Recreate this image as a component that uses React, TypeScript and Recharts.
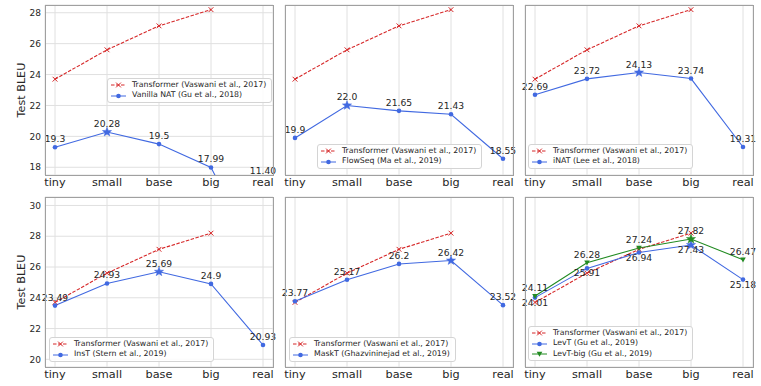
import React from 'react';
import { LineChart, Line, XAxis, YAxis, CartesianGrid, LabelList, Legend } from 'recharts';

const categories = ['tiny', 'small', 'base', 'big', 'real'];

const transformerBleu = [23.7, 25.6, 27.15, 28.2, null];

const vanillaNatBleu = [19.3, 20.28, 19.5, 17.99, 11.4];
const vanillaNatLabels = ['19.3', '20.28', '19.5', '17.99', '11.40'];

const flowSeqBleu = [19.9, 22.0, 21.65, 21.43, 18.55];
const flowSeqLabels = ['19.9', '22.0', '21.65', '21.43', '18.55'];

const inatBleu = [22.69, 23.72, 24.13, 23.74, 19.31];
const inatLabels = ['22.69', '23.72', '24.13', '23.74', '19.31'];

const instBleu = [23.49, 24.93, 25.69, 24.9, 20.93];
const instLabels = ['23.49', '24.93', '25.69', '24.9', '20.93'];

const maskTBleu = [23.77, 25.17, 26.2, 26.42, 23.52];
const maskTLabels = ['23.77', '25.17', '26.2', '26.42', '23.52'];

const levTBleu = [24.01, 25.91, 26.94, 27.43, 25.18];
const levTLabels = ['24.01', '25.91', '26.94', '27.43', '25.18'];

const levTBigBleu = [24.11, 26.28, 27.24, 27.82, 26.47];
const levTBigLabels = ['24.11', '26.28', '27.24', '27.82', '26.47'];

const topTicks = [18, 20, 22, 24, 26, 28];
const bottomTicks = [20, 22, 24, 26, 28, 30];
const topDomain: [number, number] = [17.5, 28.5];
const bottomDomain: [number, number] = [19.5, 30.55];

const RED = '#d62728';
const BLUE = '#4169e1';
const GREEN = '#228b22';
const TEXT = '#262626';
const FONT = 'DejaVu Sans, sans-serif';

const ML = 45;
const MT = 5;
const PW = 228;
const PH = 170;
const MR = 8;
const XH = 20;

type Marker = 'x' | 'circle' | 'tri';
interface SeriesDef {
  key: string;
  name: string;
  values: (number | null)[];
  labels?: string[];
  color: string;
  marker: Marker;
  dashed?: boolean;
  star?: boolean;
  below?: boolean;
}

const transformerSeries: SeriesDef = {
  key: 'tr',
  name: 'Transformer (Vaswani et al., 2017)',
  values: transformerBleu,
  color: RED,
  marker: 'x',
  dashed: true,
};

interface PanelDef {
  x0: number;
  y0: number;
  showY: boolean;
  domain: [number, number];
  ticks: number[];
  series: SeriesDef[];
  legend: { x: number; y: number };
}

const panels: PanelDef[] = [
  {
    x0: 45, y0: 5, showY: true, domain: topDomain, ticks: topTicks,
    legend: { x: 107, y: 78 },
    series: [transformerSeries, { key: 's1', name: 'Vanilla NAT (Gu et al., 2018)', values: vanillaNatBleu, labels: vanillaNatLabels, color: BLUE, marker: 'circle', star: true }],
  },
  {
    x0: 285, y0: 5, showY: false, domain: topDomain, ticks: topTicks,
    legend: { x: 317, y: 144 },
    series: [transformerSeries, { key: 's1', name: 'FlowSeq (Ma et al., 2019)', values: flowSeqBleu, labels: flowSeqLabels, color: BLUE, marker: 'circle', star: true }],
  },
  {
    x0: 525, y0: 5, showY: false, domain: topDomain, ticks: topTicks,
    legend: { x: 528, y: 144 },
    series: [transformerSeries, { key: 's1', name: 'iNAT (Lee et al., 2018)', values: inatBleu, labels: inatLabels, color: BLUE, marker: 'circle', star: true }],
  },
  {
    x0: 45, y0: 197, showY: true, domain: bottomDomain, ticks: bottomTicks,
    legend: { x: 49, y: 337 },
    series: [transformerSeries, { key: 's1', name: 'InsT (Stern et al., 2019)', values: instBleu, labels: instLabels, color: BLUE, marker: 'circle', star: true }],
  },
  {
    x0: 285, y0: 197, showY: false, domain: bottomDomain, ticks: bottomTicks,
    legend: { x: 289, y: 337 },
    series: [transformerSeries, { key: 's1', name: 'MaskT (Ghazvininejad et al., 2019)', values: maskTBleu, labels: maskTLabels, color: BLUE, marker: 'circle', star: true }],
  },
  {
    x0: 525, y0: 197, showY: false, domain: bottomDomain, ticks: bottomTicks,
    legend: { x: 528, y: 326 },
    series: [
      transformerSeries,
      { key: 's1', name: 'LevT (Gu et al., 2019)', values: levTBleu, labels: levTLabels, color: BLUE, marker: 'circle', star: true, below: true },
      { key: 's2', name: 'LevT-big (Gu et al., 2019)', values: levTBigBleu, labels: levTBigLabels, color: GREEN, marker: 'tri', star: true },
    ],
  },
];

function starPoints(cx: number, cy: number, ro: number, ri: number) {
  const pts: string[] = [];
  for (let i = 0; i < 10; i++) {
    const r = i % 2 === 0 ? ro : ri;
    const a = -Math.PI / 2 + (i * Math.PI) / 5;
    pts.push(`${cx + r * Math.cos(a)},${cy + r * Math.sin(a)}`);
  }
  return pts.join(' ');
}

function MarkerShape({ marker, cx, cy, color, star }: { marker: Marker; cx: number; cy: number; color: string; star?: boolean }) {
  if (star) {
    return <polygon points={starPoints(cx, cy, 4.8, 2.0)} fill={color} stroke={color} strokeWidth={0.5} />;
  }
  if (marker === 'x') {
    const s = 2.4;
    return (
      <g stroke={color} strokeWidth={1}>
        <line x1={cx - s} y1={cy - s} x2={cx + s} y2={cy + s} />
        <line x1={cx - s} y1={cy + s} x2={cx + s} y2={cy - s} />
      </g>
    );
  }
  if (marker === 'tri') {
    return <polygon points={`${cx - 2.8},${cy - 2.2} ${cx + 2.8},${cy - 2.2} ${cx},${cy + 2.8}`} fill={color} />;
  }
  return <circle cx={cx} cy={cy} r={2.3} fill={color} />;
}

const makeDot = (s: SeriesDef) => (props: any) => {
  const { cx, cy, index, value } = props;
  const v = Array.isArray(value) ? value[1] : value;
  if (cx == null || cy == null || v == null) return <g key={`d-${index}`} />;
  const nums = s.values.filter((x): x is number => x != null);
  const isMax = !!s.star && v === Math.max(...nums);
  return (
    <g key={`d-${index}`}>
      <MarkerShape marker={s.marker} cx={cx} cy={cy} color={s.color} star={isMax} />
    </g>
  );
};

const makeLabel = (s: SeriesDef) => (props: any) => {
  const vb = props.viewBox || {};
  const x = props.x != null ? props.x : vb.x;
  const y = props.y != null ? props.y : vb.y;
  const index = props.index;
  if (x == null || y == null || !s.labels) return null;
  let base = s.below ? y + 8 : y - 5;
  base = Math.min(base, MT + PH - 1.5);
  return (
    <text x={x} y={base} textAnchor="middle" fontSize={9.2} fill={TEXT} fontFamily={FONT}>
      {s.labels[index]}
    </text>
  );
};

const YTitle = (props: any) => {
  const vb = props.viewBox || { x: 0, y: MT, width: ML, height: PH };
  const cx = vb.x + 21;
  const cy = vb.y + vb.height / 2;
  return (
    <text x={cx} y={cy} transform={`rotate(-90 ${cx} ${cy})`} textAnchor="middle" dominantBaseline="central" fontSize={11.2} fill={TEXT} fontFamily={FONT}>
      Test BLEU
    </text>
  );
};

function LegendBox({ series }: { series: SeriesDef[] }) {
  return (
    <div
      style={{
        background: 'rgba(255,255,255,0.85)',
        border: '1px solid #d4d4d4',
        borderRadius: 3,
        padding: '0.5px 5px 0.5px 3px',
        fontFamily: FONT,
        fontSize: 7.8,
        color: TEXT,
        whiteSpace: 'nowrap',
      }}
    >
      {series.map((s) => (
        <div key={s.key} style={{ display: 'flex', alignItems: 'center', height: 10.8 }}>
          <svg width={15} height={8} style={{ display: 'block' }}>
            <line x1={0} y1={4} x2={15} y2={4} stroke={s.color} strokeWidth={1} strokeDasharray={s.dashed ? '3.5 1.5' : undefined} />
            <MarkerShape marker={s.marker} cx={7.5} cy={4} color={s.color} />
          </svg>
          <span style={{ marginLeft: 6, lineHeight: '10.8px' }}>{s.name}</span>
        </div>
      ))}
    </div>
  );
}

function Panel({ p }: { p: PanelDef }) {
  const data = categories.map((c, i) => {
    const row: any = { cat: c };
    p.series.forEach((s) => {
      row[s.key] = s.values[i];
    });
    return row;
  });
  const left = p.x0 - ML;
  const top = p.y0 - MT;
  return (
    <div style={{ position: 'absolute', left, top }}>
      <LineChart width={ML + PW + MR} height={MT + PH + XH} data={data} margin={{ top: MT, right: MR, left: 0, bottom: 0 }}>
        <CartesianGrid stroke="#e0e0e0" strokeWidth={1} />
        <XAxis
          dataKey="cat"
          padding={{ left: 10, right: 10 }}
          tickLine={false}
          axisLine={false}
          tickSize={0}
          tickMargin={3}
          interval={0}
          height={XH}
          tick={{ fontSize: 11.3, fill: TEXT, fontFamily: FONT }}
        />
        <YAxis
          type="number"
          domain={p.domain}
          ticks={p.ticks}
          allowDataOverflow
          width={ML}
          tickLine={false}
          axisLine={false}
          tickSize={0}
          tickMargin={4}
          tick={p.showY ? { fontSize: 9, fill: TEXT, fontFamily: FONT } : false}
          label={p.showY ? YTitle : undefined}
        />
        {p.series.map((s) => (
          <Line
            key={s.key}
            type="linear"
            dataKey={s.key}
            stroke={s.color}
            strokeWidth={1.1}
            strokeDasharray={s.dashed ? '3.5 1.5' : undefined}
            dot={makeDot(s)}
            activeDot={false}
            isAnimationActive={false}
            connectNulls={false}
          >
            {s.labels ? <LabelList dataKey={s.key} content={makeLabel(s)} /> : null}
          </Line>
        ))}
        <Legend
          layout="vertical"
          align="center"
          verticalAlign="middle"
          wrapperStyle={{ left: p.legend.x - left, top: p.legend.y - top, width: 'auto' }}
          content={() => <LegendBox series={p.series} />}
        />
      </LineChart>
      <div
        style={{
          position: 'absolute',
          left: ML - 0.5,
          top: MT - 0.5,
          width: PW + 1,
          height: PH + 1,
          border: '1px solid #a0a0a0',
          boxSizing: 'border-box',
          pointerEvents: 'none',
        }}
      />
    </div>
  );
}

export default function App() {
  return (
    <div style={{ position: 'absolute', left: 0, top: 0, width: 761, height: 386, overflow: 'hidden', background: '#fff' }}>
      {panels.map((p, i) => (
        <Panel key={i} p={p} />
      ))}
    </div>
  );
}
